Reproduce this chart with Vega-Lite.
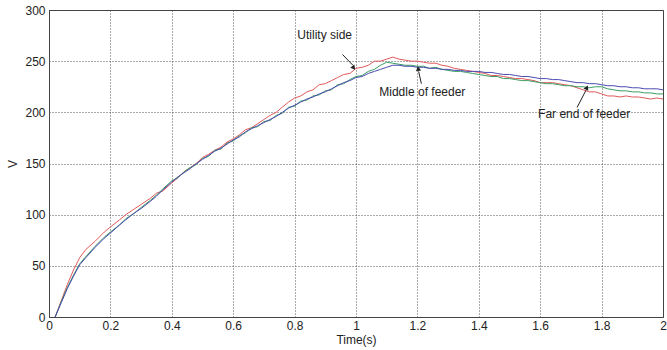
{
  "$schema": "https://vega.github.io/schema/vega-lite/v6.json",
  "width": 614,
  "height": 307,
  "autosize": {"type": "none"},
  "padding": {"left": 49, "top": 10, "right": 4, "bottom": 33},
  "background": "white",
  "config": {
    "font": "Liberation Sans",
    "view": {"stroke": "#444", "strokeWidth": 1},
    "axis": {
      "labelFont": "Liberation Sans",
      "titleFont": "Liberation Sans",
      "labelFontSize": 12,
      "titleFontSize": 12,
      "titleFontWeight": "normal",
      "labelColor": "#222",
      "titleColor": "#222",
      "grid": true,
      "gridColor": "#444",
      "gridDash": [1, 2],
      "gridOpacity": 0.9,
      "gridWidth": 1,
      "domainColor": "#444",
      "ticks": false,
      "labelOverlap": false,
      "labelFlush": false
    }
  },
  "layer": [
    {
      "data": {
        "values": [
          {"t": 0.02, "R": 0, "G": 0, "B": 0},
          {"t": 0.04, "R": 16, "G": 15, "B": 14},
          {"t": 0.06, "R": 32, "G": 29, "B": 28},
          {"t": 0.08, "R": 46, "G": 41, "B": 40},
          {"t": 0.10, "R": 58, "G": 52, "B": 51},
          {"t": 0.12, "R": 66, "G": 59, "B": 58},
          {"t": 0.15, "R": 74, "G": 69, "B": 68},
          {"t": 0.18, "R": 83, "G": 78, "B": 77},
          {"t": 0.20, "R": 88, "G": 83, "B": 82},
          {"t": 0.23, "R": 95, "G": 90, "B": 90},
          {"t": 0.25, "R": 100, "G": 96, "B": 95},
          {"t": 0.28, "R": 106, "G": 102, "B": 102},
          {"t": 0.30, "R": 110, "G": 107, "B": 106},
          {"t": 0.33, "R": 116, "G": 114, "B": 113},
          {"t": 0.35, "R": 121, "G": 119, "B": 118},
          {"t": 0.37, "R": 123, "G": 125, "B": 124},
          {"t": 0.40, "R": 131, "G": 133, "B": 132},
          {"t": 0.42, "R": 136, "G": 136, "B": 137},
          {"t": 0.44, "R": 142, "G": 142, "B": 141},
          {"t": 0.46, "R": 146, "G": 146, "B": 145},
          {"t": 0.48, "R": 150, "G": 149, "B": 150},
          {"t": 0.50, "R": 156, "G": 155, "B": 154},
          {"t": 0.52, "R": 159, "G": 157, "B": 158},
          {"t": 0.54, "R": 163, "G": 163, "B": 162},
          {"t": 0.56, "R": 166, "G": 164, "B": 165},
          {"t": 0.58, "R": 171, "G": 170, "B": 169},
          {"t": 0.60, "R": 174, "G": 172, "B": 173},
          {"t": 0.62, "R": 178, "G": 177, "B": 176},
          {"t": 0.64, "R": 183, "G": 180, "B": 181},
          {"t": 0.66, "R": 185, "G": 185, "B": 184},
          {"t": 0.68, "R": 189, "G": 186, "B": 187},
          {"t": 0.70, "R": 193, "G": 191, "B": 190},
          {"t": 0.72, "R": 197, "G": 192, "B": 193},
          {"t": 0.74, "R": 200, "G": 197, "B": 196},
          {"t": 0.76, "R": 205, "G": 199, "B": 200},
          {"t": 0.78, "R": 210, "G": 205, "B": 204},
          {"t": 0.80, "R": 214, "G": 206, "B": 207},
          {"t": 0.82, "R": 216, "G": 211, "B": 210},
          {"t": 0.84, "R": 220, "G": 212, "B": 213},
          {"t": 0.86, "R": 222, "G": 216, "B": 215},
          {"t": 0.88, "R": 227, "G": 217, "B": 218},
          {"t": 0.90, "R": 228, "G": 221, "B": 220},
          {"t": 0.92, "R": 231, "G": 222, "B": 223},
          {"t": 0.94, "R": 234, "G": 227, "B": 226},
          {"t": 0.96, "R": 237, "G": 228, "B": 229},
          {"t": 0.98, "R": 238, "G": 232, "B": 231},
          {"t": 1.00, "R": 243, "G": 235, "B": 234},
          {"t": 1.02, "R": 244, "G": 236, "B": 235},
          {"t": 1.04, "R": 246, "G": 240, "B": 238},
          {"t": 1.06, "R": 250, "G": 242, "B": 240},
          {"t": 1.08, "R": 250, "G": 246, "B": 242},
          {"t": 1.10, "R": 252, "G": 249, "B": 244},
          {"t": 1.12, "R": 254, "G": 248, "B": 246},
          {"t": 1.14, "R": 252, "G": 247, "B": 246},
          {"t": 1.16, "R": 251, "G": 246, "B": 245},
          {"t": 1.18, "R": 250, "G": 246, "B": 245},
          {"t": 1.20, "R": 250, "G": 245, "B": 244},
          {"t": 1.22, "R": 249, "G": 245, "B": 244},
          {"t": 1.24, "R": 248, "G": 243, "B": 243},
          {"t": 1.26, "R": 248, "G": 244, "B": 243},
          {"t": 1.28, "R": 246, "G": 242, "B": 242},
          {"t": 1.30, "R": 245, "G": 241, "B": 242},
          {"t": 1.32, "R": 243, "G": 240, "B": 241},
          {"t": 1.34, "R": 242, "G": 240, "B": 241},
          {"t": 1.36, "R": 241, "G": 239, "B": 240},
          {"t": 1.38, "R": 240, "G": 238, "B": 240},
          {"t": 1.40, "R": 239, "G": 237, "B": 240},
          {"t": 1.42, "R": 238, "G": 236, "B": 239},
          {"t": 1.44, "R": 236, "G": 235, "B": 239},
          {"t": 1.46, "R": 236, "G": 235, "B": 238},
          {"t": 1.48, "R": 235, "G": 233, "B": 237},
          {"t": 1.50, "R": 234, "G": 233, "B": 237},
          {"t": 1.52, "R": 233, "G": 232, "B": 236},
          {"t": 1.54, "R": 233, "G": 231, "B": 235},
          {"t": 1.56, "R": 232, "G": 231, "B": 235},
          {"t": 1.58, "R": 231, "G": 230, "B": 234},
          {"t": 1.60, "R": 229, "G": 229, "B": 233},
          {"t": 1.62, "R": 229, "G": 228, "B": 233},
          {"t": 1.64, "R": 229, "G": 228, "B": 232},
          {"t": 1.66, "R": 228, "G": 227, "B": 232},
          {"t": 1.68, "R": 227, "G": 226, "B": 231},
          {"t": 1.70, "R": 226, "G": 226, "B": 230},
          {"t": 1.72, "R": 224, "G": 225, "B": 229},
          {"t": 1.74, "R": 222, "G": 225, "B": 229},
          {"t": 1.76, "R": 220, "G": 224, "B": 228},
          {"t": 1.78, "R": 220, "G": 225, "B": 228},
          {"t": 1.80, "R": 218, "G": 225, "B": 227},
          {"t": 1.82, "R": 216, "G": 223, "B": 226},
          {"t": 1.84, "R": 216, "G": 222, "B": 226},
          {"t": 1.86, "R": 215, "G": 221, "B": 225},
          {"t": 1.88, "R": 216, "G": 221, "B": 225},
          {"t": 1.90, "R": 215, "G": 220, "B": 224},
          {"t": 1.92, "R": 215, "G": 220, "B": 224},
          {"t": 1.94, "R": 214, "G": 219, "B": 223},
          {"t": 1.96, "R": 213, "G": 219, "B": 223},
          {"t": 1.98, "R": 214, "G": 218, "B": 223},
          {"t": 2.00, "R": 213, "G": 218, "B": 222}
        ]
      },
      "transform": [{"fold": ["R", "G", "B"], "as": ["series", "v"]}],
      "mark": {"type": "line", "strokeWidth": 1, "interpolate": "linear"},
      "encoding": {
        "x": {
          "field": "t", "type": "quantitative",
          "scale": {"domain": [0, 2], "nice": false},
          "axis": {"title": "Time(s)", "values": [0, 0.2, 0.4, 0.6, 0.8, 1, 1.2, 1.4, 1.6, 1.8, 2], "format": "~g", "labelPadding": 3, "titlePadding": 3}
        },
        "y": {
          "field": "v", "type": "quantitative",
          "scale": {"domain": [0, 300], "nice": false},
          "axis": {"title": "V", "values": [0, 50, 100, 150, 200, 250, 300], "labelPadding": 4, "titlePadding": 5}
        },
        "color": {
          "field": "series", "type": "nominal",
          "scale": {"domain": ["R", "G", "B"], "range": ["#e05a5a", "#3a9e62", "#4a4ab0"]},
          "legend": null
        }
      }
    },
    {
      "data": {
        "values": [
          {"t": 0.898, "v": 276, "label": "Utility side"},
          {"t": 1.216, "v": 220, "label": "Middle of feeder"},
          {"t": 1.743, "v": 198, "label": "Far end of feeder"}
        ]
      },
      "mark": {"type": "text", "font": "Liberation Sans", "fontSize": 12, "color": "#222", "align": "center", "baseline": "middle"},
      "encoding": {
        "x": {"field": "t", "type": "quantitative"},
        "y": {"field": "v", "type": "quantitative"},
        "text": {"field": "label"}
      }
    },
    {
      "data": {
        "values": [
          {"t": 0.956, "v": 256.5, "t2": 0.99, "v2": 246},
          {"t": 1.213, "v": 228, "t2": 1.204, "v2": 240},
          {"t": 1.72, "v": 204.7, "t2": 1.749, "v2": 221.5}
        ]
      },
      "mark": {"type": "rule", "color": "#222", "strokeWidth": 1},
      "encoding": {
        "x": {"field": "t", "type": "quantitative"},
        "y": {"field": "v", "type": "quantitative"},
        "x2": {"field": "t2"},
        "y2": {"field": "v2"}
      }
    },
    {
      "data": {"values": [{"t": 0.991, "v": 244}]},
      "mark": {"type": "point", "shape": "triangle", "filled": true, "color": "#222", "size": 28, "angle": 141, "opacity": 1},
      "encoding": {
        "x": {"field": "t", "type": "quantitative"},
        "y": {"field": "v", "type": "quantitative"}
      }
    },
    {
      "data": {"values": [{"t": 1.203, "v": 242}]},
      "mark": {"type": "point", "shape": "triangle", "filled": true, "color": "#222", "size": 28, "angle": 350, "opacity": 1},
      "encoding": {
        "x": {"field": "t", "type": "quantitative"},
        "y": {"field": "v", "type": "quantitative"}
      }
    },
    {
      "data": {"values": [{"t": 1.751, "v": 223.5}]},
      "mark": {"type": "point", "shape": "triangle", "filled": true, "color": "#222", "size": 28, "angle": 25, "opacity": 1},
      "encoding": {
        "x": {"field": "t", "type": "quantitative"},
        "y": {"field": "v", "type": "quantitative"}
      }
    }
  ]
}
